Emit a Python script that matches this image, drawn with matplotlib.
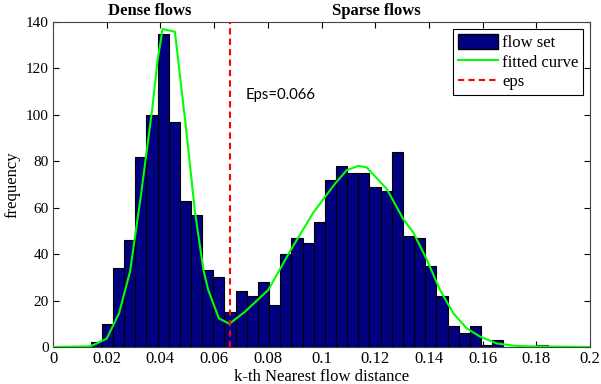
import numpy as np
import matplotlib
matplotlib.use("Agg")
import matplotlib.pyplot as plt
from matplotlib.lines import Line2D
from matplotlib.patches import Patch

# ── DATA ──────────────────────────────────────────────────────────────────────
BIN_START = 0.014
BIN_WIDTH = 0.004154
counts = [2, 10, 34, 46, 82, 100, 135, 97, 63, 57, 33, 30, 15,
          24, 22, 28, 18, 40, 47, 45, 54, 72, 78, 75, 75, 69, 67, 84,
          48, 47, 35, 22, 9, 6, 9, 1, 3, 0, 0, 0, 1]

curve_x = [0.0, 0.0138, 0.0163, 0.020, 0.0246, 0.0287, 0.0327, 0.037, 0.0389,
           0.0408, 0.0454, 0.0494, 0.0529, 0.056, 0.0578, 0.0618, 0.0657,
           0.0715, 0.0802, 0.0883, 0.097, 0.105, 0.1094, 0.1137, 0.1168,
           0.1243, 0.1305, 0.1342, 0.1392, 0.1441, 0.1491, 0.1541, 0.159,
           0.1653, 0.1714, 0.176, 0.2]
curve_y = [0.0, 0.3, 1.5, 3.6, 14.5, 32.6, 65, 103, 123,
           137, 135.8, 95.7, 58, 33.3, 24.6, 12.3, 10.0,
           15.2, 24.6, 41.3, 58, 70.3, 76.2, 78, 77.4,
           68.1, 55, 49.3, 37.7, 24.6, 14.5, 8, 4.5,
           1.5, 0.6, 0.3, 0.0]

EPS = 0.066
xticks = [0, 0.02, 0.04, 0.06, 0.08, 0.1, 0.12, 0.14, 0.16, 0.18, 0.2]
xtick_labels = ['0', '0.02', '0.04', '0.06', '0.08', '0.1', '0.12', '0.14', '0.16', '0.18', '0.2']
yticks = [0, 20, 40, 60, 80, 100, 120, 140]

# ── STYLE ─────────────────────────────────────────────────────────────────────
SERIF = ['Liberation Serif', 'DejaVu Serif']
BAR_COLOR = '#000080'
CURVE_COLOR = '#00ff00'
EPS_COLOR = '#ff0000'

plt.rcParams['font.family'] = SERIF

fig = plt.figure(figsize=(6.01, 3.84), dpi=100)
ax = fig.add_axes([0.0882, 0.0964, 0.8935, 0.8463])

# histogram bars
bin_left = BIN_START + BIN_WIDTH * np.arange(len(counts))
ax.bar(bin_left, counts, width=BIN_WIDTH, align='edge',
       color=BAR_COLOR, edgecolor='black', linewidth=0.8, zorder=2)

# fitted curve
ax.plot(curve_x, curve_y, color=CURVE_COLOR, linewidth=1.5, zorder=3)

# eps line
ax.axvline(EPS, color=EPS_COLOR, linestyle='--', linewidth=1.5,
           dashes=(3, 2), zorder=4)
ax.text(0.0719, 108.5, 'Eps=0.066', family=['Lato', 'DejaVu Sans'],
        fontsize=10.7, va='center', ha='left')

ax.set_xlim(0, 0.2)
ax.set_ylim(0, 140)
ax.set_xticks(xticks)
ax.set_xticklabels(xtick_labels)
ax.set_yticks(yticks)
ax.tick_params(direction='in', top=True, right=True, length=4, pad=3)
ax.tick_params(axis='x', labelsize=12)
ax.tick_params(axis='y', labelsize=11)
for sp in ax.spines.values():
    sp.set_linewidth(0.8)
    sp.set_color('#444444')

ax.set_xlabel('k-th Nearest flow distance', fontsize=12, labelpad=1)
ax.set_ylabel('frequency', fontsize=12, labelpad=4)

# region labels above the axes
ax.text(0.0359, 141.3, 'Dense flows', fontsize=12, fontweight='bold',
        ha='center', va='bottom')
ax.text(0.1205, 141.3, 'Sparse flows', fontsize=12, fontweight='bold',
        ha='center', va='bottom')

legend_items = [
    Patch(facecolor=BAR_COLOR, edgecolor='black', label='flow set'),
    Line2D([0], [0], color=CURVE_COLOR, linewidth=1.5, label='fitted curve'),
    Line2D([0], [0], color=EPS_COLOR, linewidth=1.5, linestyle='--',
           dashes=(3, 2), label='eps'),
]
leg = ax.legend(handles=legend_items, loc='upper right', fontsize=12,
                fancybox=False, framealpha=1, edgecolor='black',
                borderaxespad=0.4, handlelength=2.4, handletextpad=0.25,
                handleheight=1.0, labelspacing=0.15, borderpad=0.3)
leg.get_frame().set_linewidth(0.8)

fig.savefig('out.png', dpi=100)
